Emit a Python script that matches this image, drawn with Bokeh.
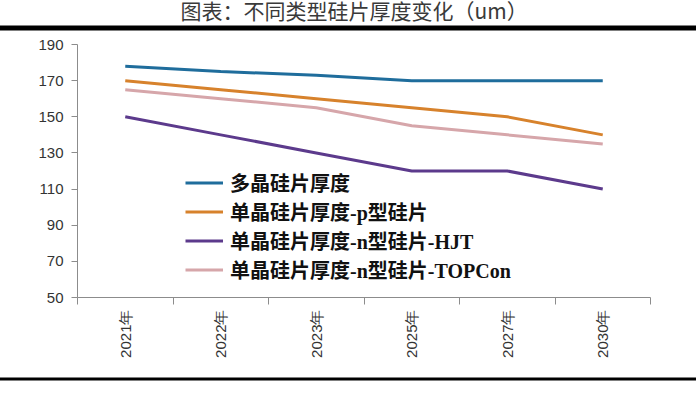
import math
from bokeh.plotting import figure
from bokeh.models import FixedTicker, Title, Legend, LegendItem, Range1d
from bokeh.embed import file_html
from bokeh.resources import INLINE

# ---- data ----
categories = ["2021年", "2022年", "2023年", "2025年", "2027年", "2030年"]
poly = [178, 175, 173, 170, 170, 170]
mono_p = [170, 165, 160, 155, 150, 140]
mono_hjt = [150, 140, 130, 120, 120, 110]
mono_topcon = [165, 160, 155, 145, 140, 135]
series_names = ["多晶硅片厚度", "单晶硅片厚度-p型硅片", "单晶硅片厚度-n型硅片-HJT", "单晶硅片厚度-n型硅片-TOPCon"]
series_values = [poly, mono_p, mono_hjt, mono_topcon]
colors = ["#1f6d9c", "#d7822c", "#5c3a8c", "#d6a6aa"]
y_ticks = [50, 70, 90, 110, 130, 150, 170, 190]
title_text = "图表：不同类型硅片厚度变化（um）"

W, H = 696, 398
FL, FR, FT, FB = 77, 650, 44, 297   # frame edges in page pixels

p = figure(width=W, height=H, output_backend="svg", toolbar_location=None,
           x_range=Range1d(0, len(categories)), y_range=Range1d(50, 190),
           min_border_left=FL, min_border_right=W - FR,
           min_border_top=FT, min_border_bottom=H - FB)
p.outline_line_color = None
p.grid.visible = False
p.background_fill_color = "white"
p.border_fill_color = "white"

xs = [i + 0.5 for i in range(len(categories))]
items = []
for name, vals, c in zip(series_names, series_values, colors):
    r = p.line(xs, vals, line_color=c, line_width=3)
    items.append(LegendItem(label=name, renderers=[r]))

ya = p.yaxis[0]
ya.ticker = FixedTicker(ticks=y_ticks)
ya.axis_line_color = "#8c8c8c"
ya.major_tick_line_color = "#8c8c8c"
ya.major_tick_out = 6
ya.major_tick_in = 0
ya.minor_tick_line_color = None
ya.major_label_text_font = "Liberation Sans"
ya.major_label_text_font_size = "15px"
ya.major_label_text_color = "#333333"
ya.major_label_standoff = 8

xa = p.xaxis[0]
xa.ticker = FixedTicker(ticks=xs, minor_ticks=list(range(len(categories) + 1)))
xa.major_label_overrides = {x: c for x, c in zip(xs, categories)}
xa.axis_line_color = "#8c8c8c"
xa.major_tick_line_color = None
xa.minor_tick_line_color = "#8c8c8c"
xa.minor_tick_out = 7
xa.minor_tick_in = 0
xa.major_label_orientation = math.pi / 2
xa.major_label_text_font = "Liberation Sans"
xa.major_label_text_font_size = "15px"
xa.major_label_text_color = "#333333"
xa.major_label_standoff = 5

legend = Legend(items=items, location=(108, 13), orientation="vertical",
                padding=0, margin=0, spacing=-3, glyph_width=38, glyph_height=25,
                label_height=25, label_standoff=7,
                label_text_font='"Liberation Serif", "Noto Sans CJK SC"',
                label_text_font_style="bold", label_text_font_size="20px",
                label_text_color="#111111",
                background_fill_alpha=0, border_line_color=None)
p.add_layout(legend, "center")

# title and heavy rules in the side panels (outside the frame)
p.title = Title(text=title_text, align="left", text_font="Noto Sans CJK SC",
                text_font_size="21px", text_font_style="normal", text_color="#3a3a3a",
                standoff=-31, offset=103)
rule_top = Title(text=" ", align="center", text_font_size="1px",
                 padding=(W, 2), standoff=28,
                 background_fill_color="black", background_fill_alpha=1.0)
p.add_layout(rule_top, "above")
rule_bottom = Title(text=" ", align="center", text_font_size="1px",
                    padding=(W, 1), standoff=30,
                    background_fill_color="black", background_fill_alpha=1.0)
p.add_layout(rule_bottom, "below")

open("out.html", "w").write(file_html(p, INLINE))
